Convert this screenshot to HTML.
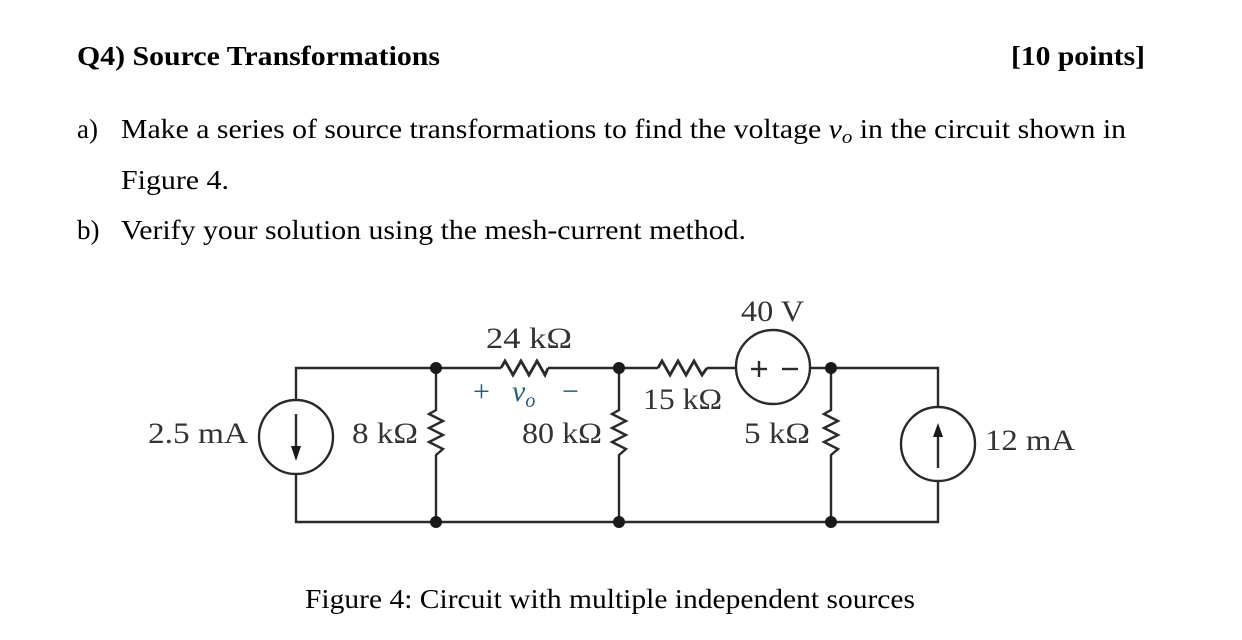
<!DOCTYPE html>
<html><head><meta charset="utf-8"><style>
html,body{margin:0;padding:0;background:#fff;}
svg{display:block;}
</style></head><body>
<svg width="1242" height="640" viewBox="0 0 1242 640" xmlns="http://www.w3.org/2000/svg" font-family="'Liberation Serif', serif">
<g fill="#000">
<text x="77" y="65" font-size="27" font-weight="bold" textLength="363" lengthAdjust="spacingAndGlyphs">Q4) Source Transformations</text>
<text x="1011" y="65" font-size="27" font-weight="bold" textLength="134" lengthAdjust="spacingAndGlyphs">[10 points]</text>
<text x="77" y="138" font-size="27">a)</text>
<text x="121" y="138" font-size="27" textLength="1005" lengthAdjust="spacingAndGlyphs">Make a series of source transformations to find the voltage <tspan font-style="italic">v<tspan font-size="19" dy="5">o</tspan></tspan><tspan dy="-5"> in the circuit shown in</tspan></text>
<text x="121" y="189" font-size="27" textLength="108" lengthAdjust="spacingAndGlyphs">Figure 4.</text>
<text x="77" y="239" font-size="27">b)</text>
<text x="121" y="239" font-size="27" textLength="625" lengthAdjust="spacingAndGlyphs">Verify your solution using the mesh-current method.</text>
<text x="305" y="608" font-size="27" textLength="610" lengthAdjust="spacingAndGlyphs">Figure 4: Circuit with multiple independent sources</text>
</g>
<g stroke="#2a2a2a" stroke-width="2.4" fill="none">
<polyline points="296,400 296,368 501,368"/>
<line x1="548" y1="368" x2="658" y2="368"/>
<line x1="707" y1="368" x2="736" y2="368"/>
<polyline points="810,368 938,368 938,407"/>
<polyline points="296,474 296,522 938,522 938,481"/>
<polyline points="501,368 505,361 513,375 521,361 529,375 537,361 545,375 548,368" stroke-width="2.8"/>
<polyline points="658,368 662,361 670,375 678,361 686,375 694,361 702,375 707,368" stroke-width="2.8"/>
<polyline points="436,368 436,410 429,414 443,421 429,428 443,435 429,442 443,449 436,455 436,522"/>
<polyline points="619,368 619,410 612,414 626,421 612,428 626,435 612,442 626,449 619,455 619,522"/>
<polyline points="831,368 831,410 824,414 838,421 824,428 838,435 824,442 838,449 831,455 831,522"/>
<circle cx="296" cy="437" r="37"/>
<circle cx="773" cy="367" r="37"/>
<circle cx="938" cy="444" r="37"/>
<line x1="296" y1="414" x2="296" y2="450"/>
<line x1="938" y1="468" x2="938" y2="434"/>
<line x1="751" y1="369" x2="767" y2="369"/>
<line x1="759" y1="361" x2="759" y2="377"/>
<line x1="782" y1="369" x2="798" y2="369"/>
</g>
<g fill="#1a1a1a">
<polygon points="291,446 301,446 296,461"/>
<polygon points="933,437 943,437 938,423"/>
<circle cx="436" cy="368" r="6"/><circle cx="619" cy="368" r="6"/><circle cx="831" cy="368" r="6"/>
<circle cx="436" cy="522" r="6"/><circle cx="619" cy="522" r="6"/><circle cx="831" cy="522" r="6"/>
</g>
<g fill="#333" font-size="30">
<text x="148" y="443" textLength="100" lengthAdjust="spacingAndGlyphs">2.5 mA</text>
<text x="352" y="443" textLength="66" lengthAdjust="spacingAndGlyphs">8 kΩ</text>
<text x="486" y="348" textLength="86" lengthAdjust="spacingAndGlyphs">24 kΩ</text>
<text x="522" y="443" textLength="80" lengthAdjust="spacingAndGlyphs">80 kΩ</text>
<text x="643" y="409" textLength="79" lengthAdjust="spacingAndGlyphs">15 kΩ</text>
<text x="741" y="321" textLength="63" lengthAdjust="spacingAndGlyphs">40 V</text>
<text x="744" y="443" textLength="66" lengthAdjust="spacingAndGlyphs">5 kΩ</text>
<text x="985" y="450" textLength="90" lengthAdjust="spacingAndGlyphs">12 mA</text>
</g>
<g fill="#2b5d80" font-size="30">
<text x="473" y="401">+</text>
<text x="512" y="401" font-style="italic">v<tspan font-size="20" dy="6">o</tspan></text>
<text x="562" y="401">−</text>
</g>
</svg>
</body></html>
